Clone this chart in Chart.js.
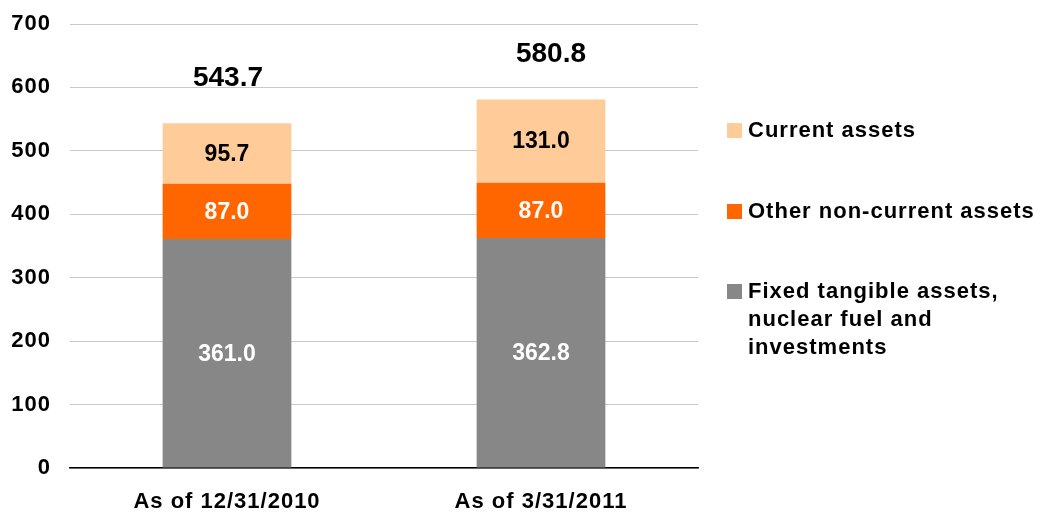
<!DOCTYPE html>
<html>
<head>
<meta charset="utf-8">
<script src="https://cdn.jsdelivr.net/npm/chart.js@4/dist/chart.umd.min.js"></script>
<style>
  html, body { margin: 0; padding: 0; background: #fff; }
  #wrap { width: 1037px; height: 512px; position: relative; }
</style>
</head>
<body>
<div id="wrap"><canvas id="c" width="1037" height="512"></canvas></div>
<script>
/* ── data ── */
const categories = ['As of 12/31/2010', 'As of 3/31/2011'];
const fixedAssets = [361.0, 362.8];
const otherNonCurrent = [87.0, 87.0];
const currentAssets = [95.7, 131.0];
const totals = [543.7, 580.8];
const seriesNames = ['Fixed tangible assets,\nnuclear fuel and\ninvestments', 'Other non-current assets', 'Current assets'];

const FONT = '"Liberation Sans", Arial, sans-serif';
const colors = { fixed: '#878787', other: '#ff6600', current: '#ffcc99' };

/* slightly spaced text, like the original slide */
const spacingPlugin = {
    id: 'spacing',
    beforeDraw(chart) { chart.ctx.letterSpacing = '1px'; },
};

/* segment labels + totals + legend */
const labelPlugin = {
    id: 'labels',
    afterDatasetsDraw(chart) {
        const ctx = chart.ctx;
        ctx.save();
        ctx.letterSpacing = '0px';
        ctx.textAlign = 'center';
        ctx.textBaseline = 'middle';
        ctx.font = 'bold 23px ' + FONT;
        chart.data.datasets.forEach((ds, di) => {
            const meta = chart.getDatasetMeta(di);
            meta.data.forEach((bar, i) => {
                const mid = (bar.y + bar.base) / 2;
                ctx.fillStyle = di === 2 ? '#000' : '#fff';
                ctx.fillText(ds.data[i].toFixed(1), bar.x, mid + 1);
            });
        });
        // totals above stack
        const top = chart.getDatasetMeta(2);
        ctx.font = 'bold 28px ' + FONT;
        ctx.fillStyle = '#000';
        top.data.forEach((bar, i) => {
            ctx.fillText(totals[i].toFixed(1), bar.x + (i === 1 ? 10 : 1), bar.y - 45);
        });

        // legend
        ctx.letterSpacing = '1px';
        ctx.textAlign = 'left';
        ctx.font = 'bold 22px ' + FONT;
        const items = [
            { name: seriesNames[2], color: colors.current, y: 130 },
            { name: seriesNames[1], color: colors.other, y: 211 },
            { name: seriesNames[0], color: colors.fixed, y: 291 },
        ];
        items.forEach(it => {
            ctx.fillStyle = it.color;
            ctx.fillRect(727, it.y - 7, 15, 15);
            ctx.fillStyle = '#000';
            it.name.split('\n').forEach((ln, k) => ctx.fillText(ln, 748, it.y + 1 + k * 28));
        });
        ctx.restore();
    }
};

new Chart(document.getElementById('c').getContext('2d'), {
    type: 'bar',
    data: {
        labels: categories,
        datasets: [
            { label: 'Fixed', data: fixedAssets, backgroundColor: colors.fixed },
            { label: 'Other', data: otherNonCurrent, backgroundColor: colors.other },
            { label: 'Current', data: currentAssets, backgroundColor: colors.current },
        ],
    },
    options: {
        responsive: false,
        animation: false,
        layout: { padding: { top: 24, right: 339, left: 0, bottom: 0 } },
        datasets: { bar: { categoryPercentage: 1, barPercentage: 0.41 } },
        plugins: { legend: { display: false }, tooltip: { enabled: false } },
        scales: {
            x: {
                stacked: true,
                grid: { display: false, drawTicks: false },
                border: { display: true, color: '#000', width: 1.5 },
                ticks: { color: '#000', padding: 21, font: { family: FONT, size: 22, weight: 'bold' } },
                afterFit(s) { s.height = 44; s.paddingLeft = 0; s.paddingRight = 0; },
            },
            y: {
                stacked: true,
                min: 0,
                max: 700,
                grid: { color: '#c8c8c8', lineWidth: 1, drawTicks: false },
                border: { display: false },
                ticks: { stepSize: 100, color: '#000', padding: 19, font: { family: FONT, size: 22, weight: 'bold' } },
                afterFit(s) { s.width = 70; s.paddingTop = 0; s.paddingBottom = 0; },
            },
        },
    },
    plugins: [spacingPlugin, labelPlugin],
});
</script>
</body>
</html>
